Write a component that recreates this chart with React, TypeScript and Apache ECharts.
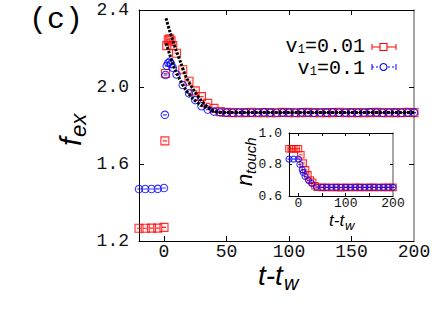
import React, { useEffect, useRef } from "react";
import * as echarts from "echarts";

// ---------- main panel data ----------
const redT = [-20, -15, -10, -5, 0, 0.7, 1.2, 2.2, 3.4, 4.6, 5.6, 7, 10, 15, 20, 25, 30, 35, 40, 45,
  50, 55, 60, 65, 70, 75, 80, 85, 90, 95, 100, 105, 110, 115, 120, 125, 130, 135, 140, 145, 150,
  155, 160, 165, 170, 175, 180, 185, 190, 195, 200];
const redF = [1.266, 1.266, 1.267, 1.267, 1.271, 1.72, 2.07, 2.215, 2.245, 2.25, 2.24, 2.215, 2.175,
  2.09, 2.03, 1.98, 1.95, 1.915, 1.889, 1.872,
  1.868, 1.867, 1.866, 1.867, 1.868, 1.866, 1.867, 1.867, 1.866, 1.868, 1.867, 1.866, 1.867, 1.868,
  1.867, 1.866, 1.867, 1.867, 1.868, 1.866, 1.867, 1.867, 1.866, 1.867, 1.868, 1.867, 1.866, 1.867,
  1.867, 1.868, 1.867];

const blueT = [-20, -15, -10, -5, 0, 0.7, 1.2, 2.2, 3.4, 4.6, 5.6, 7, 10, 15, 20, 25, 30, 35, 40, 45,
  50, 55, 60, 65, 70, 75, 80, 85, 90, 95, 100, 105, 110, 115, 120, 125, 130, 135, 140, 145, 150,
  155, 160, 165, 170, 175, 180, 185, 190, 195, 200];
const blueF = [1.47, 1.47, 1.47, 1.471, 1.475, 1.855, 2.062, 2.11, 2.125, 2.131, 2.12, 2.1, 2.065,
  2.01, 1.967, 1.932, 1.9, 1.882, 1.872, 1.868,
  1.867, 1.866, 1.867, 1.867, 1.866, 1.867, 1.868, 1.867, 1.866, 1.867, 1.867, 1.866, 1.868, 1.867,
  1.866, 1.867, 1.867, 1.868, 1.866, 1.867, 1.867, 1.866, 1.867, 1.868, 1.867, 1.866, 1.867, 1.867,
  1.866, 1.867, 1.867];

// fitted curves (black dotted)
const fitUpT = [1.6, 4.3, 6.9, 9.6, 13.6, 17.6, 22.9, 29.5, 36.1, 41, 50, 200];
const fitUpF = [2.357, 2.296, 2.244, 2.192, 2.123, 2.053, 1.993, 1.932, 1.889, 1.872, 1.867, 1.867];
const fitLoT = [1.6, 4.3, 6.9, 9.6, 13.6, 17.6, 22.9, 29.5, 36, 41, 50, 200];
const fitLoF = [2.227, 2.175, 2.123, 2.08, 2.028, 1.984, 1.941, 1.906, 1.889, 1.872, 1.867, 1.867];

// ---------- inset data ----------
const inRedT = [-20, -15, -10, -5, 0, 5, 10, 15, 20, 25, 30, 35, 40, 50, 60, 70, 80, 90, 100, 110,
  120, 130, 140, 150, 160, 170, 180, 190, 200];
const inRedN = [0.9, 0.9, 0.9, 0.9, 0.9, 0.862, 0.809, 0.766, 0.734, 0.702, 0.687, 0.665, 0.656,
  0.655, 0.655, 0.654, 0.655, 0.653, 0.655, 0.654, 0.655, 0.655, 0.654, 0.655, 0.655, 0.654, 0.655,
  0.655, 0.655];
const inBlueT = [-20, -10, 0, 3, 8, 10, 14, 21, 28, 38, 50, 60, 70, 80, 90, 100, 110, 120, 130, 140,
  150, 160, 170, 180, 190, 200];
const inBlueN = [0.834, 0.834, 0.834, 0.8, 0.766, 0.749, 0.724, 0.7, 0.679, 0.657, 0.655, 0.655,
  0.655, 0.655, 0.656, 0.655, 0.655, 0.655, 0.655, 0.655, 0.655, 0.655, 0.655, 0.655, 0.655, 0.655];

const xTicksMain = [0, 50, 100, 150, 200];
const yTicksMain = [1.2, 1.6, 2.0, 2.4];
const xTicksInset = [0, 100, 200];
const yTicksInset = [0.6, 0.8, 1.0];

const legend1 = "0.01";
const legend2 = "0.1";

const zip = (a: number[], b: number[]) => a.map((v, i) => [v, b[i]]);

const MONO = '"Liberation Mono", "DejaVu Sans Mono", monospace';
const SANS = '"Liberation Sans", Arial, sans-serif';
const SQ = "path://M0,0L10,0L10,10L0,10Z M2.5,5L7.5,5";
const CI = "path://M5,0A5,5 0 1 1 4.99,0Z M2.5,5L7.5,5";

export default function App() {
  const ref = useRef<HTMLDivElement>(null);
  useEffect(() => {
    if (!ref.current) return;
    const chart = echarts.init(ref.current, null, { renderer: "svg" });
    const axisBase = (gi: number, fs: number, tickLen: number) => ({
      gridIndex: gi,
      type: "value" as const,
      splitLine: { show: false },
      axisLine: { show: true, onZero: false, lineStyle: { color: "#000", width: 1 } },
      axisTick: { show: true, inside: true, length: tickLen, lineStyle: { color: "#000" } },
      axisLabel: { show: true, fontFamily: MONO, fontSize: fs, lineHeight: fs, color: "#111" },
    });
    const option: any = {
      animation: false,
      backgroundColor: "#fff",
      grid: [
        { left: 139, top: 10, right: 22, bottom: 71 },
        { left: 289, top: 133, right: 43, bottom: 116, show: true, backgroundColor: "#fff", borderWidth: 0 },
      ],
      xAxis: [
        {
          ...axisBase(0, 18, 5), min: -20, max: 200, position: "bottom",
          axisLabel: { ...axisBase(0, 18, 5).axisLabel, margin: 2, customValues: xTicksMain },
          axisTick: { ...axisBase(0, 18, 5).axisTick, customValues: [0, 50, 100, 150] },
        },
        {
          ...axisBase(0, 18, 5), min: -20, max: 200, position: "top",
          axisLabel: { show: false },
          axisTick: { ...axisBase(0, 18, 5).axisTick, customValues: [50, 100, 150] },
        },
        {
          ...axisBase(1, 13, 3), min: -20, max: 200, position: "bottom",
          axisLabel: { ...axisBase(1, 13, 3).axisLabel, margin: 1, customValues: xTicksInset },
          axisTick: { ...axisBase(1, 13, 3).axisTick, customValues: [0, 50, 100, 150] },
        },
        {
          ...axisBase(1, 13, 3), min: -20, max: 200, position: "top",
          axisLabel: { show: false },
          axisTick: { ...axisBase(1, 13, 3).axisTick, customValues: [0, 50, 100, 150] },
        },
      ],
      yAxis: [
        {
          ...axisBase(0, 18, 5), min: 1.2, max: 2.4, position: "left",
          axisLabel: { ...axisBase(0, 18, 5).axisLabel, margin: 10, customValues: yTicksMain, formatter: (v: number) => v.toFixed(1) },
          axisTick: { ...axisBase(0, 18, 5).axisTick, customValues: [1.6, 2.0] },
        },
        {
          ...axisBase(0, 18, 5), min: 1.2, max: 2.4, position: "right",
          axisLine: { show: true, onZero: false, lineStyle: { color: "#888", width: 1.5 } },
          axisLabel: { show: false },
          axisTick: { ...axisBase(0, 18, 5).axisTick, customValues: [1.6, 2.0] },
        },
        {
          ...axisBase(1, 13, 3), min: 0.6, max: 1.0, position: "left",
          axisLabel: { ...axisBase(1, 13, 3).axisLabel, margin: 7, customValues: yTicksInset, formatter: (v: number) => v.toFixed(1) },
          axisTick: { ...axisBase(1, 13, 3).axisTick, customValues: [0.8] },
        },
        {
          ...axisBase(1, 13, 3), min: 0.6, max: 1.0, position: "right",
          axisLine: { show: true, onZero: false, lineStyle: { color: "#888", width: 1.5 } },
          axisLabel: { show: false },
          axisTick: { ...axisBase(1, 13, 3).axisTick, customValues: [0.8] },
        },
      ],
      series: [
        {
          type: "scatter", xAxisIndex: 0, yAxisIndex: 0, data: zip(redT, redF), symbol: SQ, symbolSize: 8, z: 3,
          itemStyle: { color: "rgba(255,80,80,0.12)", borderColor: "#f00", borderWidth: 1.1 },
        },
        {
          type: "scatter", xAxisIndex: 0, yAxisIndex: 0, data: zip(blueT, blueF), symbol: CI, symbolSize: 7.5, z: 4,
          itemStyle: { color: "rgba(0,0,0,0)", borderColor: "#00f", borderWidth: 1.1 },
        },
        {
          type: "line", xAxisIndex: 0, yAxisIndex: 0, data: zip(fitUpT, fitUpF), showSymbol: false, smooth: 0.3, z: 5,
          lineStyle: { color: "#000", width: 3, type: [2.5, 1.5] },
        },
        {
          type: "line", xAxisIndex: 0, yAxisIndex: 0, data: zip(fitLoT, fitLoF), showSymbol: false, smooth: 0.3, z: 6,
          lineStyle: { color: "#000", width: 3, type: [2.5, 1.5] },
        },
        {
          type: "scatter", xAxisIndex: 2, yAxisIndex: 2, data: zip(inRedT, inRedN), symbol: SQ, symbolSize: 6.5, z: 3,
          itemStyle: { color: "rgba(255,80,80,0.12)", borderColor: "#f00", borderWidth: 1.1 },
        },
        {
          type: "scatter", xAxisIndex: 2, yAxisIndex: 2, data: zip(inBlueT, inBlueN), symbol: CI, symbolSize: 6, z: 4,
          itemStyle: { color: "rgba(0,0,0,0)", borderColor: "#00f", borderWidth: 1.1 },
        },
      ],
      graphic: [
        { type: "text", x: 29, y: 20, style: { text: "(c)", fontFamily: MONO, fontSize: 30, fill: "#000", verticalAlign: "middle" } },
        // x label main
        { type: "text", x: 258, y: 275.5, style: { text: "t-t", fontFamily: SANS, fontStyle: "italic", fontSize: 28, lineHeight: 22, fill: "#000", verticalAlign: "middle" } },
        { type: "text", x: 284, y: 283, style: { text: "w", fontFamily: SANS, fontStyle: "italic", fontSize: 20, lineHeight: 15, fill: "#000", verticalAlign: "middle" } },
        // y label main
        {
          type: "group", x: 70, y: 146, rotation: Math.PI / 2,
          children: [
            { type: "text", x: 0, y: 0, style: { text: "f", fontFamily: SANS, fontStyle: "italic", fontSize: 30, fill: "#000", verticalAlign: "middle" } },
            { type: "text", x: 9, y: 8, style: { text: "ex", fontFamily: SANS, fontStyle: "italic", fontSize: 22, fill: "#000", verticalAlign: "middle" } },
          ],
        },
        // inset y label
        {
          type: "group", x: 244, y: 186, rotation: Math.PI / 2,
          children: [
            { type: "text", x: 0, y: 0, style: { text: "n", fontFamily: SANS, fontStyle: "italic", fontSize: 22, fill: "#000", verticalAlign: "middle" } },
            { type: "text", x: 12, y: 6, style: { text: "touch", fontFamily: SANS, fontStyle: "italic", fontSize: 15, fill: "#000", verticalAlign: "middle" } },
          ],
        },
        // inset x label
        { type: "text", x: 329, y: 220, style: { text: "t-t", fontFamily: SANS, fontStyle: "italic", fontSize: 17, lineHeight: 13, fill: "#000", verticalAlign: "middle" } },
        { type: "text", x: 345, y: 225, style: { text: "w", fontFamily: SANS, fontStyle: "italic", fontSize: 13, lineHeight: 10, fill: "#000", verticalAlign: "middle" } },
        // legend
        { type: "text", x: 365, y: 46.5, style: { text: "=" + legend1, fontFamily: MONO, fontSize: 20, lineHeight: 15, fill: "#000", align: "right", verticalAlign: "middle" } },
        { type: "text", x: 305, y: 49.5, style: { text: "1", fontFamily: MONO, fontSize: 12, lineHeight: 8, fill: "#000", align: "right", verticalAlign: "middle" } },
        { type: "text", x: 297.5, y: 46.5, style: { text: "v", fontFamily: MONO, fontSize: 20, lineHeight: 12, fill: "#000", align: "right", verticalAlign: "middle" } },
        { type: "text", x: 365, y: 68, style: { text: "=" + legend2, fontFamily: MONO, fontSize: 20, lineHeight: 15, fill: "#000", align: "right", verticalAlign: "middle" } },
        { type: "text", x: 317, y: 71.5, style: { text: "1", fontFamily: MONO, fontSize: 12, lineHeight: 8, fill: "#000", align: "right", verticalAlign: "middle" } },
        { type: "text", x: 309.5, y: 68.5, style: { text: "v", fontFamily: MONO, fontSize: 20, lineHeight: 12, fill: "#000", align: "right", verticalAlign: "middle" } },
        { type: "line", shape: { x1: 372, y1: 47, x2: 396, y2: 47 }, style: { stroke: "#f00", lineWidth: 1 } },
        { type: "line", shape: { x1: 372, y1: 44, x2: 372, y2: 50 }, style: { stroke: "#f00", lineWidth: 1 } },
        { type: "line", shape: { x1: 396, y1: 44, x2: 396, y2: 50 }, style: { stroke: "#f00", lineWidth: 1 } },
        { type: "rect", shape: { x: 380, y: 43.5, width: 7, height: 7 }, style: { fill: "#fff", stroke: "#f00", lineWidth: 1.1 } },
        { type: "line", shape: { x1: 372, y1: 67, x2: 396, y2: 67 }, style: { stroke: "#00f", lineWidth: 1, lineDash: [2, 2] } },
        { type: "line", shape: { x1: 372, y1: 64, x2: 372, y2: 70 }, style: { stroke: "#00f", lineWidth: 1 } },
        { type: "line", shape: { x1: 396, y1: 64, x2: 396, y2: 70 }, style: { stroke: "#00f", lineWidth: 1 } },
        { type: "circle", shape: { cx: 383.5, cy: 67, r: 3.5 }, style: { fill: "#fff", stroke: "#00f", lineWidth: 1.1 } },
      ],
    };
    chart.setOption(option);
    return () => chart.dispose();
  }, []);
  return (
    <div
      ref={ref}
      style={{ position: "fixed", left: 0, top: 0, width: 436, height: 312, background: "#fff" }}
    />
  );
}
